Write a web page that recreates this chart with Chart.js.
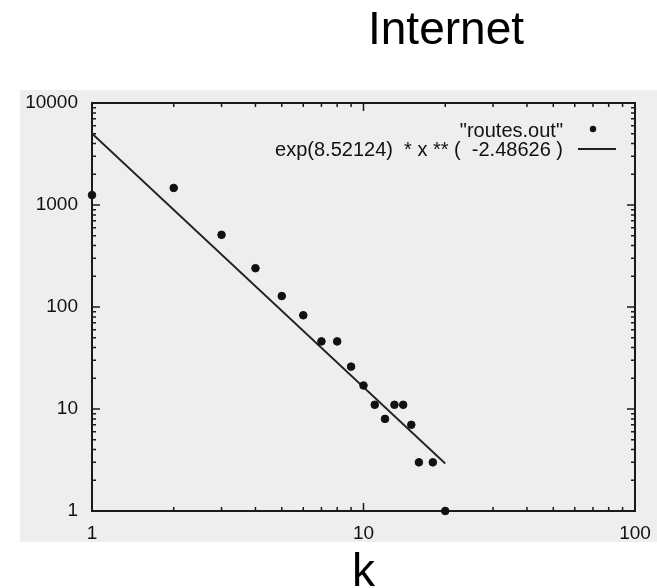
<!DOCTYPE html>
<html lang="en">
<head>
<meta charset="UTF-8" />
<title>Internet</title>
<script src="https://cdn.jsdelivr.net/npm/chart.js@4.4.1/dist/chart.umd.min.js"></script>
<style>
    html, body { margin: 0; padding: 0; background: #fff; }
    #wrap { width: 657px; height: 588px; position: relative; }
</style>
</head>
<body>
<div id="wrap"><canvas id="chart"></canvas></div>
<script>
// node degree k vs number of nodes ("routes.out")
const degrees = [1, 2, 3, 4, 5, 6, 7, 8, 9, 10, 11, 12, 13, 14, 15, 16, 18, 20];
const counts = [1250, 1470, 510, 240, 128, 83, 46, 46, 26, 17, 11, 8, 11, 11, 7, 3, 3, 1];
// power-law fit, end points of the straight line on log-log axes
const fitX = [1, 20];
const fitY = [5020, 2.92];
const xTicks = [1, 10, 100];
const yTicks = [1, 10, 100, 1000, 10000];
const minorSteps = [2, 3, 4, 5, 6, 7, 8, 9];
const titleText = 'Internet';
const xTitle = 'k';
const pointLabel = '"routes.out"';
const fitLabel = 'exp(8.52124)  * x ** (  -2.48626 )';

const FONT = "'Liberation Sans', Arial, Helvetica, sans-serif";

const paper = {
    id: 'paper',
    beforeDraw(chart) {
        const ctx = chart.ctx;
        ctx.save();
        ctx.fillStyle = '#eeeeee';
        ctx.fillRect(20, 90, chart.width - 20, 452);
        ctx.restore();
    },
    beforeDatasetsDraw(chart) {
        const {ctx, chartArea: a, scales: {x, y}} = chart;
        ctx.save();
        ctx.strokeStyle = '#1a1a1a';
        ctx.lineWidth = 1.5;
        ctx.beginPath();
        // x ticks (bottom and mirrored on top)
        xTicks.forEach(d => {
            [1].concat(minorSteps).forEach(m => {
                const v = d * m;
                if (v > x.max) return;
                const px = x.getPixelForValue(v);
                const len = m === 1 ? 8 : 4;
                ctx.moveTo(px, a.bottom); ctx.lineTo(px, a.bottom - len);
                ctx.moveTo(px, a.top); ctx.lineTo(px, a.top + len);
            });
        });
        // y ticks (left and mirrored on right)
        yTicks.forEach(d => {
            [1].concat(minorSteps).forEach(m => {
                const v = d * m;
                if (v > y.max) return;
                const py = y.getPixelForValue(v);
                const len = m === 1 ? 8 : 4;
                ctx.moveTo(a.left, py); ctx.lineTo(a.left + len, py);
                ctx.moveTo(a.right, py); ctx.lineTo(a.right - len, py);
            });
        });
        ctx.stroke();
        ctx.lineWidth = 2;
        ctx.strokeRect(a.left, a.top, a.right - a.left, a.bottom - a.top);
        ctx.restore();
    },
    afterDraw(chart) {
        const {ctx, chartArea: a} = chart;
        ctx.save();
        ctx.fillStyle = '#000';
        ctx.textAlign = 'center';
        ctx.textBaseline = 'alphabetic';
        ctx.font = '46px ' + FONT;
        ctx.fillText(titleText, 446, 44);

        // key, top right inside the frame
        ctx.fillStyle = '#111';
        ctx.font = '20px ' + FONT;
        ctx.textAlign = 'right';
        ctx.fillText(pointLabel, a.right - 72, a.top + 34);
        ctx.fillText(fitLabel, a.right - 72, a.top + 53);
        ctx.beginPath();
        ctx.arc(a.right - 42, a.top + 26, 3.2, 0, Math.PI * 2);
        ctx.fill();
        ctx.strokeStyle = '#222';
        ctx.lineWidth = 1.8;
        ctx.beginPath();
        ctx.moveTo(a.right - 57, a.top + 46);
        ctx.lineTo(a.right - 19, a.top + 46);
        ctx.stroke();
        ctx.restore();
    }
};

const ctx = document.getElementById('chart').getContext('2d');
const chart = new Chart(ctx, {
    type: 'scatter',
    data: {
        datasets: [{
            label: pointLabel,
            data: degrees.map((k, i) => ({x: k, y: counts[i]})),
            backgroundColor: '#111',
            borderColor: '#111',
            pointRadius: 3.8,
            pointStyle: 'circle',
            clip: false
        }, {
            type: 'line',
            label: fitLabel,
            data: fitX.map((k, i) => ({x: k, y: fitY[i]})),
            borderColor: '#222',
            borderWidth: 1.8,
            pointRadius: 0,
            fill: false,
            clip: false
        }]
    },
    options: {
        responsive: true,
        maintainAspectRatio: false,
        animation: false,
        layout: { padding: { top: 103, right: 22, left: 0, bottom: 0 } },
        plugins: {
            legend: { display: false },
            title: { display: false },
            tooltip: { enabled: false }
        },
        scales: {
            x: {
                type: 'logarithmic',
                min: 1,
                max: 100,
                afterBuildTicks: s => { s.ticks = xTicks.map(v => ({value: v})); },
                afterFit: s => { s.height = 77; s.paddingLeft = 0; s.paddingRight = 0; },
                ticks: {
                    color: '#111',
                    padding: 11,
                    maxRotation: 0,
                    font: { family: FONT, size: 19 },
                    callback: v => String(v)
                },
                grid: { display: false, drawTicks: false },
                border: { display: false },
                title: {
                    display: true,
                    text: xTitle,
                    color: '#000',
                    font: { family: FONT, size: 46 },
                    padding: { top: 0, bottom: -13 }
                }
            },
            y: {
                type: 'logarithmic',
                min: 1,
                max: 10000,
                afterBuildTicks: s => { s.ticks = yTicks.map(v => ({value: v})); },
                afterFit: s => { s.width = 92; s.paddingTop = 0; s.paddingBottom = 0; },
                ticks: {
                    color: '#111',
                    padding: 14,
                    font: { family: FONT, size: 19 },
                    callback: v => String(v)
                },
                grid: { display: false, drawTicks: false },
                border: { display: false }
            }
        }
    },
    plugins: [paper]
});
</script>
</body>
</html>
